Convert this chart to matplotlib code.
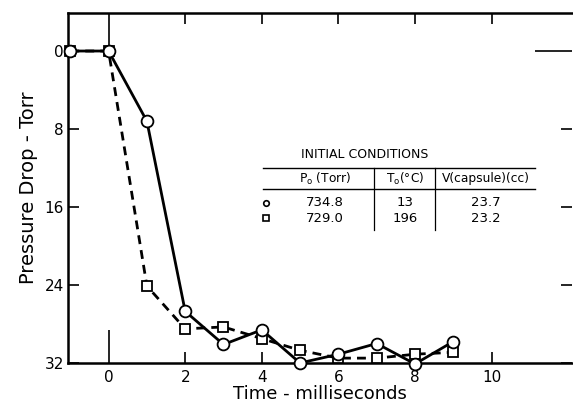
import matplotlib
matplotlib.use("Agg")
import matplotlib.pyplot as plt
from matplotlib.lines import Line2D

# ---- data ----
time_ms = [-1, 0, 1, 2, 3, 4, 5, 6, 7, 8, 9]
drop_circle = [0, 0, 7.2, 26.7, 30.1, 28.6, 32.0, 31.1, 30.0, 32.1, 29.8]
drop_square = [0, 0, 24.1, 28.5, 28.3, 29.5, 30.7, 31.5, 31.5, 31.1, 30.9]

x_ticks = [0, 2, 4, 6, 8, 10]
y_ticks = [0, 8, 16, 24, 32]

table_title = "INITIAL CONDITIONS"
table_header = ["P$_{\\mathregular{o}}$ (Torr)", "T$_{\\mathregular{o}}$(°C)", "V(capsule)(cc)"]
table_rows = [["734.8", "13", "23.7"], ["729.0", "196", "23.2"]]
table_markers = ["o", "s"]

plt.rcParams['font.family'] = ['DejaVu Sans']
fig = plt.figure(figsize=(5.73, 4.09), dpi=100)
ax = fig.add_axes([68/573, 1-363/409, (572-68)/573, (363-13)/409])

ax.plot(time_ms, drop_square, ls=(0, (3.2, 2.2)), color='black', lw=2.0,
        marker='s', ms=7.5, mfc='white', mec='black', mew=1.3, zorder=3, clip_on=False)
ax.plot(time_ms, drop_circle, ls='-', color='black', lw=2.0,
        marker='o', ms=8.5, mfc='white', mec='black', mew=1.3, zorder=4, clip_on=False)

ax.set_xlim(-1.06, 12.1)
ax.set_ylim(32, -3.9)
ax.set_xticks(x_ticks)
ax.set_yticks(y_ticks)
ax.set_xticklabels([str(v) for v in x_ticks], fontsize=11)
ax.set_yticklabels([str(v) for v in y_ticks], fontsize=11)
ax.tick_params(direction='in', length=8, width=1.2, top=True, right=True, pad=5)
ax.tick_params(axis='y', pad=3)
ax.spines['right'].set_visible(False)
for s in ['left', 'top', 'bottom']:
    ax.spines[s].set_linewidth(1.8)

# longer ticks at x=0 and y=0
xt = ax.xaxis.get_major_ticks()
xt[0].tick1line.set_markersize(24)
xt[0].tick2line.set_markersize(29)
yt = ax.yaxis.get_major_ticks()
yt[0].tick2line.set_markersize(27)

ax.set_xlabel("Time - milliseconds", fontsize=13, labelpad=0)
ax.set_ylabel("Pressure Drop - Torr", fontsize=14, labelpad=5)

# ---- table of initial conditions ----
def fx(p):
    return p / 573
def fy(p):
    return 1 - p / 409

fig.text(fx(365), fy(154), table_title, fontsize=9, ha='center', va='center')
for yy in (168, 189):
    fig.add_artist(Line2D([fx(263), fx(535)], [fy(yy), fy(yy)], color='black', lw=1.0))
for xx in (374, 435):
    fig.add_artist(Line2D([fx(xx), fx(xx)], [fy(168), fy(230)], color='black', lw=0.9))
col_x = [325, 405, 486]
for cx, h in zip(col_x, table_header):
    fig.text(fx(cx), fy(179), h, fontsize=8.8, ha='center', va='center')
for ry, row, mk in zip([203, 218], table_rows, table_markers):
    fig.add_artist(Line2D([fx(266)], [fy(ry)], marker=mk, ms=4, mfc='white',
                          mec='black', mew=1.2, ls='none'))
    for cx, v in zip(col_x, row):
        fig.text(fx(cx), fy(ry), v, fontsize=9.5, ha='center', va='center')

fig.savefig("out.png", dpi=100)
